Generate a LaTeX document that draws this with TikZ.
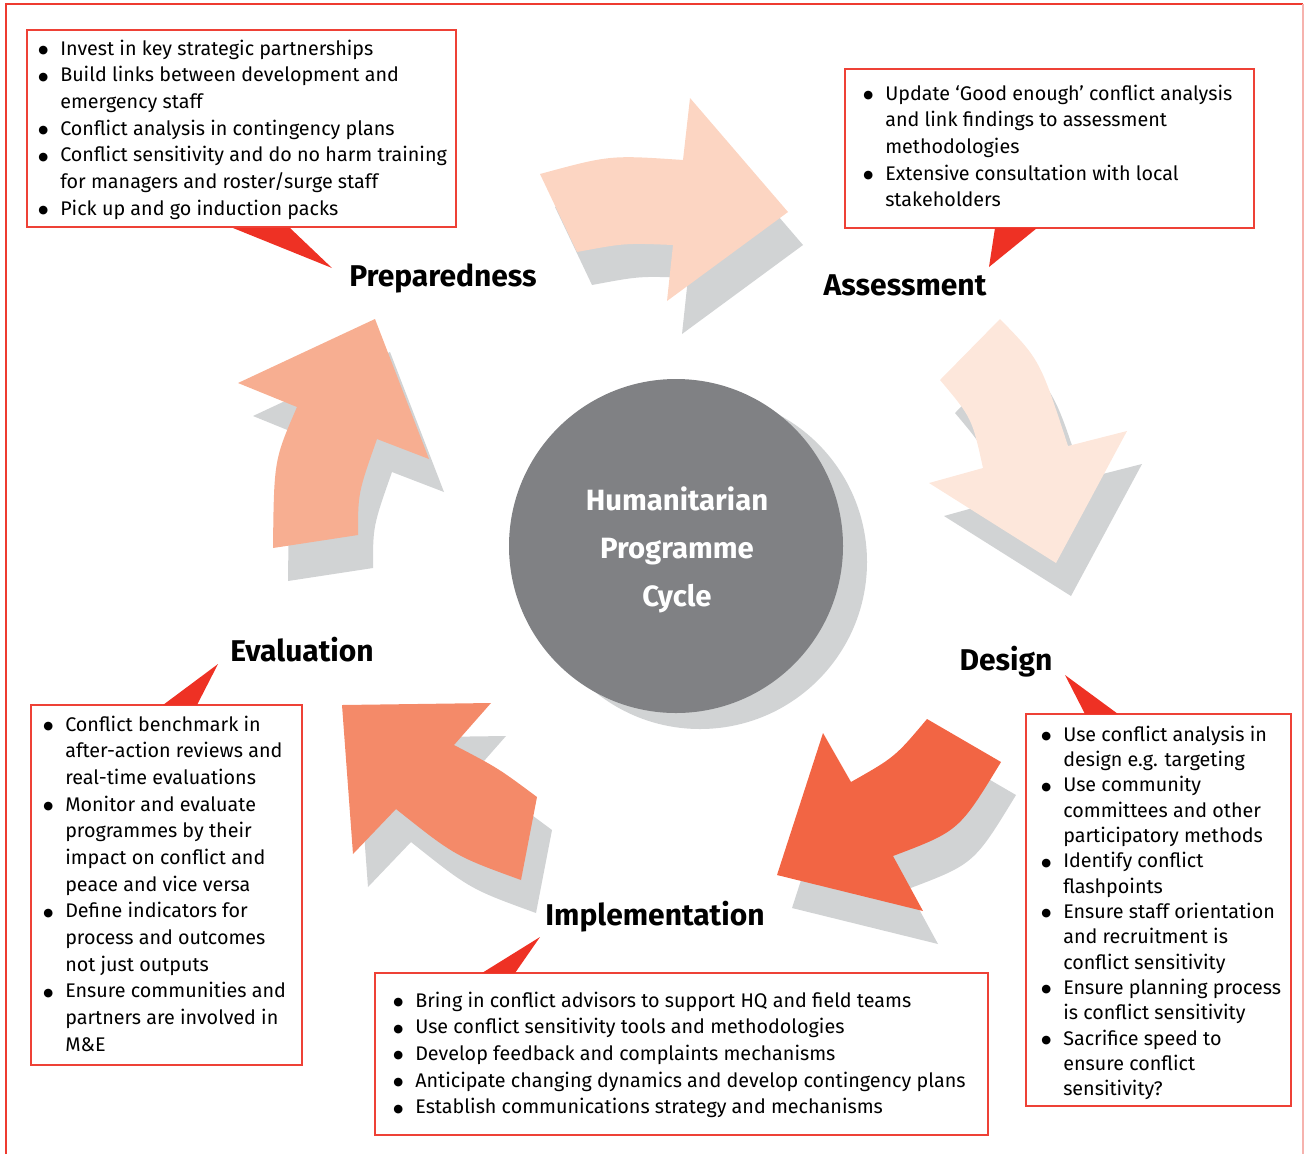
\documentclass[tikz,border=0pt]{standalone}
\usepackage{fontspec}
\setmainfont{Fira Sans}
\newfontfamily\dotfont{DejaVu Sans}
\usetikzlibrary{fit}
\definecolor{framered}{HTML}{EE3B30}
\definecolor{framepink}{HTML}{F6B3AE}
\definecolor{boxred}{HTML}{EE4136}
\definecolor{pointred}{HTML}{EE3124}
\definecolor{shadowc}{HTML}{D1D3D4}
\definecolor{circlegray}{HTML}{808184}
\definecolor{arrA}{HTML}{FCD5C2}
\definecolor{arrB}{HTML}{FDE7DB}
\definecolor{arrC}{HTML}{F26544}
\definecolor{arrD}{HTML}{F48A69}
\definecolor{arrE}{HTML}{F7AE91}
\newcommand\bl{\makebox[16.5pt][l]{\raisebox{1.2pt}{\dotfont\fontsize{8.5}{8.5}\selectfont ●}}}
\newcommand\ind{\hspace*{16.5pt}}
\begin{document}
\begin{tikzpicture}[x=0.75pt,y=-0.75pt,
  callbox/.style={draw=boxred,line width=1.1pt,inner sep=0pt},
  bodytext/.style={anchor=base west,inner sep=0pt,font=\fontsize{14.8}{20}\selectfont},
  stagelabel/.style={anchor=base,inner sep=0pt,font=\fontsize{22.5}{26}\selectfont\bfseries},
  shadowshift/.style={shift={(15,33)}},
  pathA/.style={insert path={(540,174) .. controls (610,155) .. (683,160) -- (690,98) -- (788,212) -- (667,301) -- (673,245) .. controls (625,243) .. (577,252) -- cycle}},
  pathB/.style={insert path={(940,380) -- (1000,319) .. controls (1040,360) .. (1068,446) -- (1127,431) -- (1056,563) -- (929,483) -- (983,468) .. controls (972,418) .. (940,380) -- cycle}},
  pathC/.style={insert path={(927,719) -- (1001,762) .. controls (959,831) .. (893,856) -- (923,911) -- (777,875) -- (823,733) -- (851,782) .. controls (895,757) .. (927,719) -- cycle}},
  pathD/.style={insert path={(342,705) -- (491,703) -- (454,745) .. controls (498,768) .. (537,797) -- (521,880) .. controls (455,856) .. (396,809) -- (353,854) -- cycle}},
  pathE/.style={insert path={(375,319) -- (429,459) -- (377,439) .. controls (358,493) .. (358,535) -- (273,548) .. controls (274,460) .. (297,407) -- (238,383) -- cycle}}
]
\useasboundingbox (0,0) rectangle (1306,1154);
% outer frame
\draw[framered,line width=0.9pt] (6,1154) -- (6,4) -- (1303,4);
\draw[framepink,line width=0.9pt] (1303,4) -- (1303,1154);

% arrow shadows
\fill[shadowc,shadowshift,pathA];
\fill[shadowc,shadowshift,pathB];
\fill[shadowc,shadowshift,pathC];
\fill[shadowc,shadowshift,pathD];
\fill[shadowc,shadowshift,pathE];
% arrows
\fill[arrA,pathA];
\fill[arrB,pathB];
\fill[arrC,pathC];
\fill[arrD,pathD];
\fill[arrE,pathE];

% centre circle
\fill[shadowc] (700,562) circle[radius=125.25pt];
\node[circle,fill=circlegray,minimum size=250.5pt,inner sep=0pt] (hpc) at (676,546) {};
\node[text=white,font=\fontsize{22}{36}\selectfont\bfseries,align=center,inner sep=0pt]
  (hpctext) at (677,550) {Humanitarian\\Programme\\Cycle};

% stage labels
\node[stagelabel] (prep) at (443,286) {Preparedness};
\node[stagelabel] (assess) at (905,295) {Assessment};
\node[stagelabel] (design) at (1006,670) {Design};
\node[stagelabel] (eval) at (302,661) {Evaluation};
\node[stagelabel] (impl) at (655,925) {Implementation};

% callout boxes
\node[callbox,fit={(27,30) (456,227)}] (prepbox) {};
\node[callbox,fit={(845,69) (1254,228)}] (assessbox) {};
\node[callbox,fit={(1026,714) (1291,1106)}] (designbox) {};
\node[callbox,fit={(31,705) (302,1065)}] (evalbox) {};
\node[callbox,fit={(375,973) (988,1135)}] (implbox) {};

% pointers
\fill[pointred] (233,228) -- (332,268) -- (290,228) -- cycle;
\fill[pointred] (995,228) -- (989,267) -- (1037,228) -- cycle;
\fill[pointred] (1085,714) -- (1065,675) -- (1118,714) -- cycle;
\fill[pointred] (163,705) -- (218,664) -- (197,705) -- cycle;
\fill[pointred] (482,973) -- (540,937) -- (515,973) -- cycle;

% texts
\node[bodytext] (preptext) at (38,55) {\begin{tabular}[t]{@{}l@{}}
\bl Invest in key strategic partnerships\\
\bl Build links between development and\\
\ind emergency staff\\
\bl Conflict analysis in contingency plans\\
\bl Conflict sensitivity and do no harm training\\
\ind for managers and roster/surge staff\\
\bl Pick up and go induction packs
\end{tabular}};

\node[bodytext] (assesstext) at (863,100) {\begin{tabular}[t]{@{}l@{}}
\bl Update ‘Good enough’ conflict analysis\\
\ind and link findings to assessment\\
\ind methodologies\\
\bl Extensive consultation with local\\
\ind stakeholders
\end{tabular}};

\node[bodytext,font=\fontsize{14.8}{19}\selectfont] (designtext) at (1041,741) {\begin{tabular}[t]{@{}l@{}}
\bl Use conflict analysis in\\
\ind design e.g. targeting\\
\bl Use community\\
\ind committees and other\\
\ind participatory methods\\
\bl Identify conflict\\
\ind flashpoints\\
\bl Ensure staff orientation\\
\ind and recruitment is\\
\ind conflict sensitivity\\
\bl Ensure planning process\\
\ind is conflict sensitivity\\
\bl Sacrifice speed to\\
\ind ensure conflict\\
\ind sensitivity?
\end{tabular}};

\node[bodytext] (evaltext) at (43,731) {\begin{tabular}[t]{@{}l@{}}
\bl Conflict benchmark in\\
\ind after-action reviews and\\
\ind real-time evaluations\\
\bl Monitor and evaluate\\
\ind programmes by their\\
\ind impact on conflict and\\
\ind peace and vice versa\\
\bl Define indicators for\\
\ind process and outcomes\\
\ind not just outputs\\
\bl Ensure communities and\\
\ind partners are involved in\\
\ind M\&E
\end{tabular}};

\node[bodytext] (impltext) at (393,1007) {\begin{tabular}[t]{@{}l@{}}
\bl Bring in conflict advisors to support HQ and field teams\\
\bl Use conflict sensitivity tools and methodologies\\
\bl Develop feedback and complaints mechanisms\\
\bl Anticipate changing dynamics and develop contingency plans\\
\bl Establish communications strategy and mechanisms
\end{tabular}};
\end{tikzpicture}
\end{document}
